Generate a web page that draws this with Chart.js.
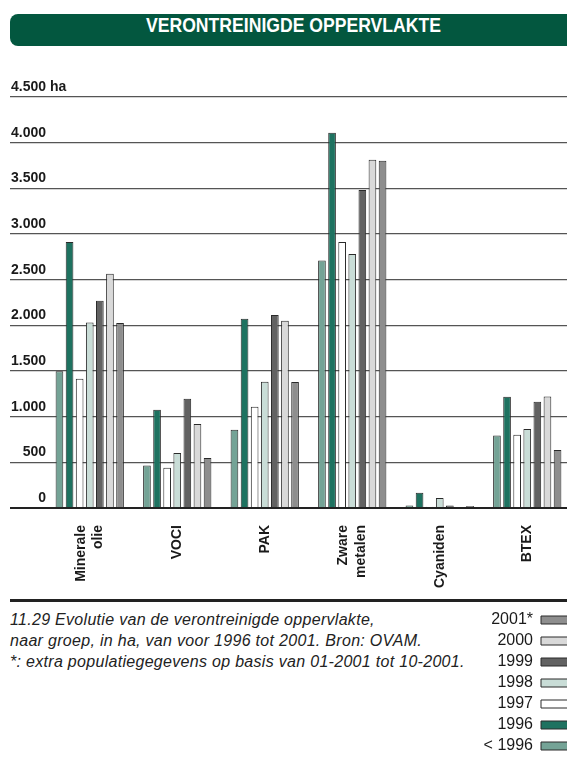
<!DOCTYPE html>
<html>
<head>
<meta charset="utf-8">
<script src="https://cdn.jsdelivr.net/npm/chart.js@4"></script>
<style>
  html, body { margin: 0; padding: 0; background: #fff; width: 567px; height: 767px; overflow: hidden; position: relative; }
  #header { position: absolute; left: 10px; top: 14px; width: 600px; height: 32px; background: #03573f; border-radius: 8px 0 0 8px; }
  #header span { position: absolute; left: 0; width: 567px; top: 0; line-height: 32px; text-align: center; color: #fff;
     font: bold 20px "Liberation Sans", Arial, sans-serif; transform: scaleX(0.88); transform-origin: 283.5px 50%; }
  #sep { position: absolute; left: 10px; top: 599px; width: 600px; height: 3px; background: #222; }
  #caption { position: absolute; left: 10px; top: 609px; font: italic 16px "Liberation Sans", Arial, sans-serif; letter-spacing: 0.3px; line-height: 21px; color: #222; white-space: nowrap; }
  #main { position: absolute; left: 0; top: 0; }
  #leg { position: absolute; left: 0; top: 600px; }
</style>
</head>
<body>
<div id="header"><span>VERONTREINIGDE OPPERVLAKTE</span></div>
<canvas id="main" width="580" height="600"></canvas>
<div id="sep"></div>
<div id="caption">11.29 Evolutie van de verontreinigde oppervlakte,<br>naar groep, in ha, van voor 1996 tot 2001. Bron: OVAM.<br>*: extra populatiegegevens op basis van 01-2001 tot 10-2001.</div>
<canvas id="leg" width="600" height="167"></canvas>
<script>
// ---- data ----
const categories = [["Minerale", "olie"], "VOCI", "PAK", ["Zware", "metalen"], "Cyaniden", "BTEX"];
const seriesNames = ["< 1996", "1996", "1997", "1998", "1999", "2000", "2001*"];
const valBefore1996 = [1496, 466, 857, 2711, 28, 795];
const val1996 = [2912, 1076, 2073, 4109, 167, 1219];
const val1997 = [1416, 441, 1109, 2912, 14, 803];
const val1998 = [2032, 602, 1383, 2781, 109, 865];
const val1999 = [2270, 1197, 2113, 3482, 28, 1164];
const val2000 = [2565, 920, 2051, 3814, 11, 1222];
const val2001 = [2025, 547, 1380, 3803, 22, 635];
const yTicks = [0, 500, 1000, 1500, 2000, 2500, 3000, 3500, 4000, 4500];
const yTickLabels = ["0", "500", "1.000", "1.500", "2.000", "2.500", "3.000", "3.500", "4.000", "4.500"];
const yUnit = "ha";

// ---- styling ----
const seriesValues = [valBefore1996, val1996, val1997, val1998, val1999, val2000, val2001];
const seriesColors = ["#74a396", "#1e7260", "#ffffff", "#c9ddd7", "#626262", "#d9d9d9", "#8e8e8e"];
const FONT = '"Liberation Sans", Arial, sans-serif';
const LABEL_OFF = -10;

const datasets = seriesNames.map((name, i) => ({
  label: name,
  data: seriesValues[i],
  backgroundColor: seriesColors[i],
  borderColor: "#2a2a2a",
  borderWidth: 1,
  categoryPercentage: 0.808,
  barPercentage: 0.76
}));

const unitPlugin = {
  id: 'unit',
  afterDraw(chart) {
    const ys = chart.scales.y;
    const ctx = chart.ctx;
    const py = ys.getPixelForValue(yTicks[yTicks.length - 1]) + LABEL_OFF;
    ctx.save();
    ctx.font = 'bold 14px ' + FONT;
    ctx.fillStyle = '#1a1a1a';
    ctx.textAlign = 'left';
    ctx.textBaseline = 'middle';
    ctx.fillText(yUnit, ys.right + 4, py);
    ctx.restore();
  }
};

new Chart(document.getElementById('main'), {
  type: 'bar',
  data: { labels: categories, datasets },
  plugins: [unitPlugin],
  options: {
    responsive: false,
    devicePixelRatio: 1,
    animation: false,
    layout: { padding: { top: 97, left: 10, right: 9, bottom: 2 } },
    plugins: { legend: { display: false }, tooltip: { enabled: false } },
    scales: {
      x: {
        grid: { display: false, drawTicks: false },
        border: { display: false },
        afterFit(s) { s.height = 90; },
        ticks: {
          maxRotation: 90, minRotation: 90,
          padding: 17,
          color: '#1a1a1a',
          font: { family: FONT, size: 14, weight: 'bold', lineHeight: 1.25 },
          labelOffset: -8.75,
          showLabelBackdrop: (ctx) => !Array.isArray(categories[ctx.index]),
          backdropColor: 'rgba(0,0,0,0)'
        }
      },
      y: {
        min: 0, max: 4500,
        afterFit(s) { s.width = 36; },
        afterBuildTicks(s) { s.ticks = yTicks.map(v => ({ value: v })); },
        border: { display: false },
        grid: {
          color: (c) => c.tick && c.tick.value === 0 ? '#222' : '#555',
          lineWidth: (c) => c.tick && c.tick.value === 0 ? 2 : 1.2,
          drawTicks: true,
          tickLength: 36
        },
        ticks: {
          padding: -36,
          labelOffset: LABEL_OFF,
          color: '#1a1a1a',
          font: { family: FONT, size: 14, weight: 'bold' },
          callback: (v) => yTickLabels[yTicks.indexOf(v)]
        }
      }
    }
  }
});

new Chart(document.getElementById('leg'), {
  type: 'bar',
  data: {
    labels: [],
    datasets: seriesNames.map((name, i) => ({
      label: name, data: [], backgroundColor: seriesColors[i], borderColor: "#2a2a2a", borderWidth: 1
    }))
  },
  options: {
    responsive: false,
    devicePixelRatio: 1,
    animation: false,
    layout: { padding: { top: 7, right: 4 } },
    scales: { x: { display: false }, y: { display: false } },
    plugins: {
      tooltip: { enabled: false },
      legend: {
        position: 'right',
        align: 'start',
        reverse: true,
        rtl: true,
        textDirection: 'ltr',
        onClick: null,
        labels: {
          boxWidth: 50,
          boxHeight: 8,
          padding: 5,
          color: '#1a1a1a',
          font: { family: FONT, size: 16 }
        }
      }
    }
  }
});
</script>
</body>
</html>
